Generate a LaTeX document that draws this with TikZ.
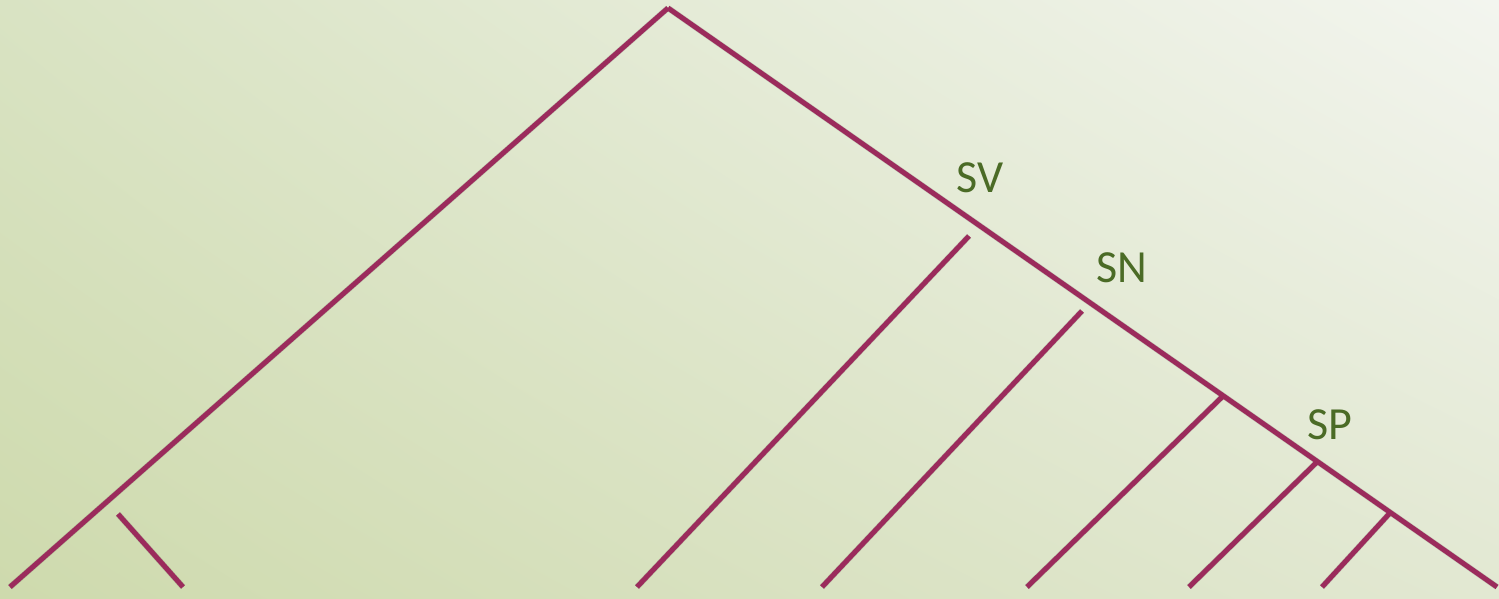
\documentclass[tikz,border=0pt]{standalone}
\usepackage{fontspec}
\setmainfont{Carlito}
\usepackage{xcolor}
\usetikzlibrary{shadings}
\definecolor{branchred}{HTML}{9B2B5C}
\definecolor{catgreen}{HTML}{4B6B26}
\definecolor{bgdark}{HTML}{CEDAAD}
\definecolor{bgleft}{HTML}{D9E3C3}
\definecolor{bgright}{HTML}{E2E8D2}
\definecolor{bglight}{HTML}{F3F5EF}

\begin{document}
\begin{tikzpicture}[
x=0.5pt,y=-0.5pt,
edge/.style={draw=branchred,line width=2.5pt},
edgeshadow/.style={draw=black,opacity=0.15,line width=3pt,shift={(1.5,2)}},
cat/.style={text=catgreen,font=\fontsize{23}{23}\selectfont,inner sep=0pt},
]
% background
\shade[lower left=bgdark,upper right=bglight,upper left=bgleft,lower right=bgright]
  (0,0) rectangle (1499,599);
\useasboundingbox (0,0) rectangle (1499,599);

% tree points
\coordinate (top) at (668,8);
\coordinate (leftend) at (10,587);
\coordinate (rightend) at (1497,587);
\coordinate (detA) at (118,514);
\coordinate (detB) at (183,587);
\coordinate (svA) at (969,236);
\coordinate (svB) at (637,587);
\coordinate (snA) at (1082,311);
\coordinate (snB) at (822,587);
\coordinate (nA) at (1222,397);
\coordinate (nB) at (1027,587);
\coordinate (spA) at (1317,462);
\coordinate (spB) at (1189,587);
\coordinate (pA) at (1389,514);
\coordinate (pB) at (1322,587);

% shadows
\foreach \a/\b in {top/leftend,top/rightend,detA/detB,svA/svB,snA/snB,nA/nB,spA/spB,pA/pB}
  \draw[edgeshadow] (\a) -- (\b);

% branches
\draw[edge] (top) -- (leftend);
\draw[edge] (top) -- (rightend);
\draw[edge] (detA) -- (detB);
\draw[edge] (svA) -- (svB);
\draw[edge] (snA) -- (snB);
\draw[edge] (nA) -- (nB);
\draw[edge] (spA) -- (spB);
\draw[edge] (pA) -- (pB);

% labels
\node[cat] (sv) at (980,178) {SV};
\node[cat] (sn) at (1122,268) {SN};
\node[cat] (sp) at (1330,425) {SP};
\end{tikzpicture}
\end{document}
